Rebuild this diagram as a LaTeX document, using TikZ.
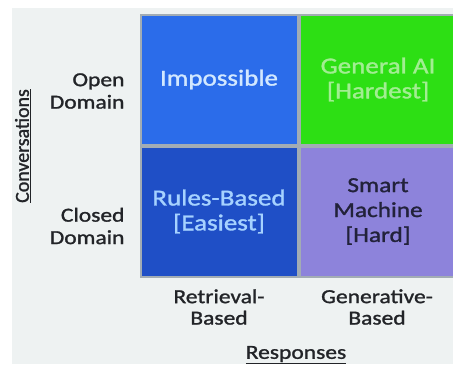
\documentclass[tikz,border=0pt]{standalone}
\usepackage{fontspec}
\setmainfont{Carlito}[FakeStretch=1.18, FakeBold=1.3]
\newfontfamily\rotfont{Carlito}[FakeBold=1.3]
\usetikzlibrary{positioning}

\definecolor{fondo}{HTML}{EEF2F2}
\definecolor{borde}{HTML}{A2ACB4}
\definecolor{azul}{HTML}{2B6CEA}
\definecolor{azuloscuro}{HTML}{1F4FC6}
\definecolor{verde}{HTML}{2DDF14}
\definecolor{lila}{HTML}{8D83DB}
\definecolor{etiqueta}{HTML}{222428}
\definecolor{txtazul}{HTML}{D2E8FF}
\definecolor{txtverde}{HTML}{A2EE92}
\definecolor{txtoscuro}{HTML}{A6D2FF}
\definecolor{txtlila}{HTML}{22223A}

\tikzset{
  celda/.style={draw=borde, line width=2bp, minimum width=157bp, minimum height=130bp,
    align=center, font=\fontsize{23}{25}\selectfont},
  fila/.style={text=etiqueta, align=right, font=\fontsize{20}{22.5}\selectfont},
  columna/.style={text=etiqueta, align=center, font=\fontsize{20}{21.5}\selectfont}
}

\begin{document}
\begin{tikzpicture}[x=1bp, y=1bp]
    % Fondo
    \useasboundingbox (0,0) rectangle (453,-364);
    \clip (0,0) rectangle (453,-364);
    \fill[fondo] (12,-8) rectangle (453,-364);

    % Dibuja las celdas
    \node[celda, fill=azul, text=txtazul] (imp) at (219,-79.5) {Impossible};
    \node[celda, fill=verde, text=txtverde, right=0bp of imp] (gen) {General AI\\{[Hardest]}};
    \node[celda, fill=azuloscuro, text=txtoscuro, below=0bp of imp] (reg) {Rules-Based\\{[Easiest]}};
    \node[celda, fill=lila, text=txtlila, below=0bp of gen,
      font=\fontsize{21.5}{25}\selectfont] (sma) {Smart\\Machine\\{[Hard]}};

    % Etiquetas de filas
    \node[fila, anchor=east] (abierto) at (128,-91) {Open\\Domain};
    \node[fila, anchor=east] (cerrado) at (128,-226) {Closed\\Domain};
    \node[rotate=90, text=etiqueta, font=\rotfont\fontsize{20}{22}\selectfont] (conv) at (23,-146) {\underline{Conversations}};

    % Etiquetas de columnas
    \node[columna] (recup) at (219,-307) {Retrieval-\\Based};
    \node[columna] (gener) at (377,-307) {Generative-\\Based};
    \node[text=etiqueta, font=\fontsize{20}{22}\selectfont] (resp) at (296,-355) {\underline{Responses}};
\end{tikzpicture}
\end{document}
